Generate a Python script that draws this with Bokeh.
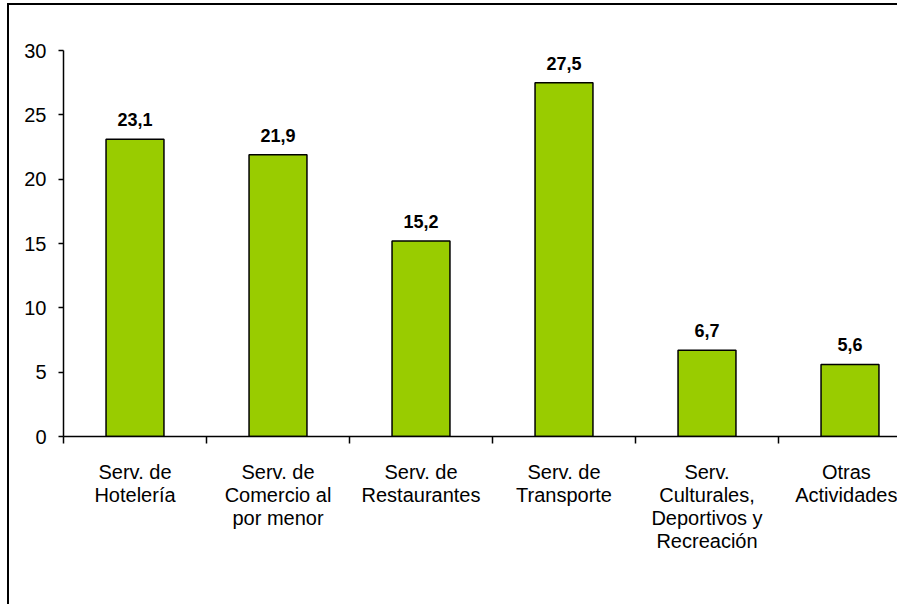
from bokeh.plotting import figure
from bokeh.models import Range1d, FixedTicker, LinearAxis, ColumnDataSource
from bokeh.core.properties import value
from bokeh.embed import file_html
from bokeh.resources import INLINE

categories = ["Serv. de\nHotelería", "Serv. de\nComercio al\npor menor", "Serv. de\nRestaurantes",
              "Serv. de\nTransporte", "Serv.\nCulturales,\nDeportivos y\nRecreación", "Otras\nActividades"]
values = [23.1, 21.9, 15.2, 27.5, 6.7, 5.6]
value_labels = ["23,1", "21,9", "15,2", "27,5", "6,7", "5,6"]
y_ticks = [0, 5, 10, 15, 20, 25, 30]

centers = [i + 0.5 for i in range(len(categories))]
bounds = [float(i) for i in range(len(categories) + 1)]

FONT = "Liberation Sans"

p = figure(frame_width=834, frame_height=386, min_border_left=54, min_border_right=0,
           min_border_top=45, min_border_bottom=168,
           x_range=Range1d(0, 834 / 143), y_range=Range1d(0, 30),
           x_axis_type=None, y_axis_type=None,
           output_backend="svg", toolbar_location=None)
p.outline_line_color = None
p.xgrid.visible = False
p.ygrid.visible = False
p.styles = {"border-left": "2px solid black", "border-top": "2px solid black",
            "margin-left": "7px", "margin-top": "3px"}

src = ColumnDataSource(dict(x=centers, top=values, lab=value_labels))
p.vbar(x="x", top="top", width=0.405, bottom=0, source=src,
       fill_color="#99CC00", line_color="black", line_width=1.5)
p.text(x="x", y="top", text="lab", source=src, text_align="center", text_baseline="bottom",
       y_offset=-13, text_font=value(FONT), text_font_style="bold", text_font_size="18px",
       text_color="black")

xaxis = LinearAxis(ticker=FixedTicker(ticks=centers, minor_ticks=bounds))
xaxis.major_label_overrides = {c: lab for c, lab in zip(centers, categories)}
xaxis.major_tick_out = 0
xaxis.major_tick_in = 0
xaxis.minor_tick_out = 7
xaxis.minor_tick_in = 0
xaxis.minor_tick_line_color = "black"
xaxis.minor_tick_line_width = 1.5
xaxis.axis_line_color = "black"
xaxis.axis_line_width = 1.5
xaxis.major_label_standoff = 17
xaxis.major_label_text_font = FONT
xaxis.major_label_text_font_size = "20px"
xaxis.major_label_text_color = "black"
xaxis.major_label_text_line_height = 1.05
p.add_layout(xaxis, "below")

yaxis = LinearAxis(ticker=FixedTicker(ticks=y_ticks))
yaxis.major_tick_out = 5
yaxis.major_tick_in = 0
yaxis.minor_tick_line_color = None
yaxis.major_tick_line_color = "black"
yaxis.major_tick_line_width = 1.5
yaxis.axis_line_color = "black"
yaxis.axis_line_width = 1.5
yaxis.major_label_standoff = 12
yaxis.major_label_text_font = FONT
yaxis.major_label_text_font_size = "20px"
yaxis.major_label_text_color = "black"
p.add_layout(yaxis, "left")

open("out.html", "w").write(file_html(p, INLINE))
